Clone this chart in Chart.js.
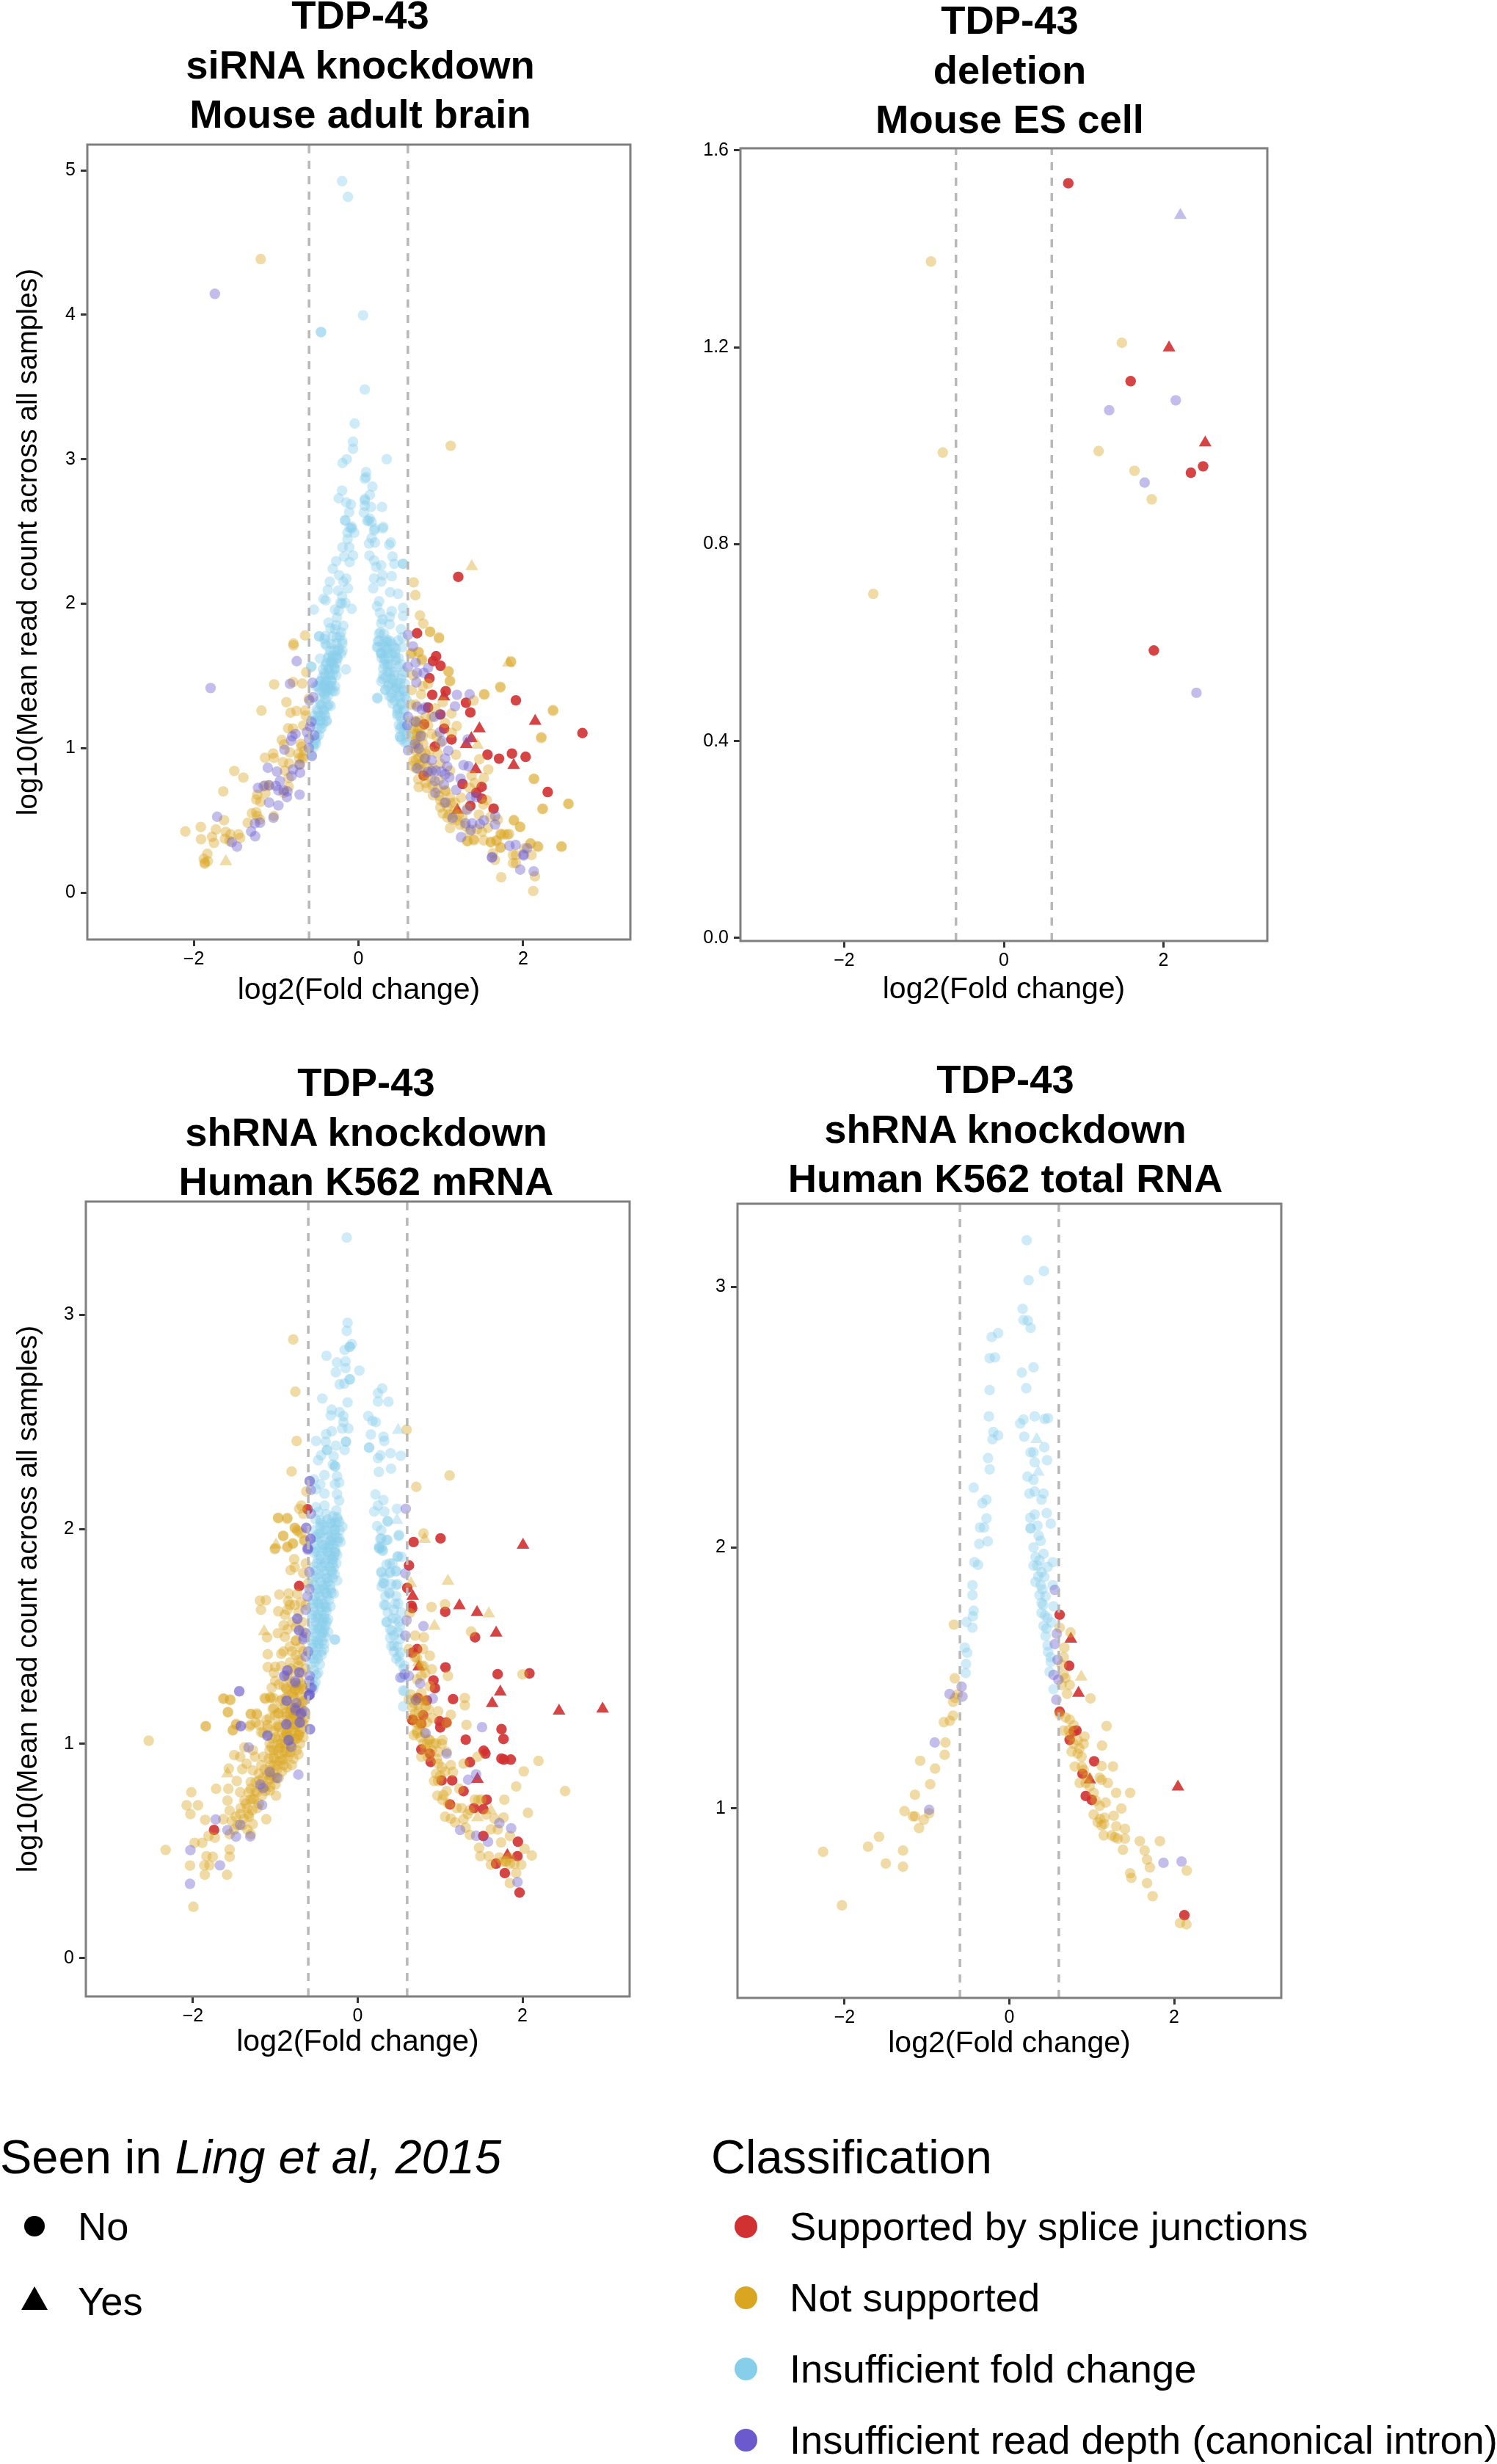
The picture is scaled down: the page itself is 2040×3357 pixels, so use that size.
<!DOCTYPE html>
<html>
<head>
<meta charset="utf-8">
<title>TDP-43 volcano plots</title>
<script src="https://cdn.jsdelivr.net/npm/chart.js@4/dist/chart.umd.min.js"></script>
<style>
  html, body { margin: 0; padding: 0; background: #fff; }
  body { position: relative; width: 2040px; height: 3357px; overflow: hidden; font-family: "Liberation Sans", Arial, sans-serif; color: #000; }
  canvas { position: absolute; }
  .panel-title { position: absolute; transform: translateX(-50%); text-align: center; white-space: nowrap; font-weight: bold; font-size: 54.4px; line-height: 67.5px; }
  .legend-title { position: absolute; font-size: 65px; line-height: 66px; white-space: nowrap; }
  .legend-label { position: absolute; font-size: 54.3px; line-height: 54px; white-space: nowrap; }
  .dot { position: absolute; border-radius: 50%; }
  .tri { position: absolute; width: 0; height: 0; border-left: 18px solid transparent; border-right: 18px solid transparent; border-bottom: 32px solid #000; }
</style>
</head>
<body>
<script>
// values, [log2 fold change, log10 mean count]
const xTicks = [-2, 0, 2];
const foldCut = 0.6;

const classLabels = ["Supported by splice junctions", "Not supported", "Insufficient fold change", "Insufficient read depth (canonical intron)"];
const classColors = ["#D13131", "#DAA520", "#87CEEB", "#6A5ACD"];
const seenLabels = ["No", "Yes"];

// --- siRNA knockdown, mouse adult brain
const brainTicks = [0, 1, 2, 3, 4, 5];
const brainSupported = [[.711,1.795],[.943,1.636],[.905,1.602],[.997,1.57],[.863,1.484],[1.059,1.394],[.896,1.369],[1.306,1.314],[1.912,1.331],[1.359,1.247],[.845,1.281],[.994,1.233],[.798,1.165],[1.041,1.135],[1.13,1.06],[.928,1.01],[2.72,1.104],[1.567,.955],[1.707,.927],[1.864,.962],[2.03,.94],[2.298,.696],[1.264,.752],[1.496,.732],[1.43,.691],[1.499,.65],[1.359,.6],[1.641,.581],[.792,.81],[1.212,2.186]];
const brainSupportedYes = [[1.469,1.135],[1.371,1.067],[1.309,1.026],[2.146,1.187],[1.885,.881],[1.424,.852],[1.038,1.355],[1.2,.57]];
const brainNotSupported = [[.869,1.806],[.979,1.767],[.646,1.657],[.732,1.665],[.774,1.616],[1.092,1.533],[1.113,1.467],[1.852,1.601],[1.722,1.425],[1.526,1.374],[1.398,1.33],[2.363,1.264],[2.221,1.076],[1.13,1.24],[1.193,1.153],[1.133,1.106],[1.184,.955],[1.469,.923],[1.576,.852],[2.129,.788],[1.523,.793],[2.548,.615],[2.239,.581],[1.888,.503],[1.962,.456],[2.467,.32],[2.176,.32],[2.087,.339],[1.724,.408],[1.772,.403],[1.829,.406],[1.728,.313],[1.671,.361],[1.609,.347],[1.522,.361],[1.401,.369],[1.32,.356],[1.113,.447],[1.463,.539],[1.573,.449],[1.603,.522],[1.692,.505],[1.558,.64],[1.517,.61],[1.41,.759],[1.35,.725],[1.374,.81],
[.762,1.372],[.646,1.402],[.78,1.428],[.845,1.445],[.667,1.504],[.697,1.301],[.637,1.301],[.934,1.275],[1.024,1.318],[.89,1.216],[1.053,1.174],[.815,1.216],[.741,1.191],[.845,1.157],[.667,1.131],[.711,1.098],[.89,1.098],[.949,1.081],[.786,1.03],[.682,1.047],[.86,.979],[.964,.962],[.994,1.038],[.815,.962],[.667,.911],[.741,.886],[.83,.877],[.652,.877],[.994,.894],[1.113,.844],[.726,.784],[.815,.759],[.732,.73],[.83,.725],[.905,.674],[.994,.64],[1.113,.657],[.994,.59],[1.024,.547],[1.083,.59],[1.172,.623],[1.246,.657],[1.217,.539],[1.32,.581],[1.142,.505],[1.232,.47],[1.35,.42],[1.053,.708],[.68,1.19],[.66,1.1],[.7,1.06],[.72,1.14],[.76,1.1],[.7,.98],[.73,.93],[.78,.9],[.7,.86],[.88,.79],[.96,.72],[1.04,.62],[1.1,.54],[1.2,.5],
[.7,1.18],[.74,1.13],[.78,1.08],[.72,1.02],[.66,1],[.76,.97],[.7,.92],[.8,.93],[.75,.85],[.82,.82],[.9,.86],[.98,.78],[.9,.74],[.98,.67],[1.06,.7],[1.12,.62],[1.08,.52],[1.16,.56],[1.26,.52],[1.3,.46],[1.44,.44],[1.5,.42],
[1.887,.498],[1.964,.453],[1.734,.401],[1.811,.401],[1.606,.351],[1.683,.358],[1.402,.362],[1.325,.356],[1.632,.272],[1.724,.31],[1.657,.226],[1.877,.26],[1.913,.26],[1.877,.204],[1.913,.204],[2.015,.306],[2.092,.34],[2.184,.317],[2.102,.26],[2.465,.317],[1.734,.106],[2.143,.113],[2.123,.011],[2.235,.578],[2.552,.614],[2.133,.786],[2.22,1.069],[2.363,1.257],[1.724,1.42],[1.852,1.595],
[.67,2.147],[.691,2.059],[.747,1.918],[.788,1.862],[.87,1.805],[.977,1.76],[.634,1.653],[.726,1.665],[.767,1.608],[1.095,1.529],[1.11,1.461],[1.529,1.37],[1.12,3.093],[-1.187,4.385],
[-.649,1.78],[-.789,1.724],[-.789,1.711],[-.634,1.526],[-.795,1.457],[-.682,1.447],[-1.024,1.441],[-1.178,1.26],[-.875,1.318],[-.825,1.245],[-.753,1.257],[-.646,1.26],[-.64,1.225],[-.602,1.343],[-.67,1.157],[-.854,1.137],[-.795,1.135],[-.932,1.057],[-.905,1.026],[-1.036,.962],[-1.134,.933],[-1.027,.932],[-1.508,.842],[-1.398,.796],[-1.642,.701],[-.917,.903],[-.834,.97],[-.842,.894],[-.73,.962],[-.67,.928],[-.7,1.03],[-.715,.886],[-.893,.844],[-.848,.793],[-1.131,.742],[-1.086,.742],[-1.229,.677],[-1.131,.688],[-1.241,.644],[-1.19,.628],[-.848,.733],[-.908,.691],[-1.294,.549],[-1.241,.556],[-1.229,.53],[-1.196,.505],[-1.345,.483],[-1.027,.53],[-1.633,.501],[-1.731,.437],[-1.915,.454],[-2.102,.423],[-1.912,.369],[-1.778,.386],[-1.755,.344],[-1.612,.42],[-1.555,.403],[-1.457,.403],[-1.621,.373],[-1.437,.378],[-1.567,.358],[-1.835,.268],[-1.879,.234],[-1.829,.217],[-1.867,.208],[-1.867,.2],[-.68,.94],[-.66,.98],[-.72,.93],[-.69,1.01]];
const brainNotSupportedYes = [[1.82,1.589],[1.445,1.021],[1.376,2.258],[-1.611,.215]];
const brainLowFold = [[-.199,4.925],[-.128,4.816],[.056,3.996],[-.455,3.88],[-.455,3.88],[.077,3.483],[-.046,3.247],[-.066,3.121],[-.066,3.072],[-.143,3],[-.194,2.974],[.343,3],[.092,2.911],[.092,2.876],[.077,2.865],[.169,2.811],[-.199,2.783],[.138,2.753],[-.24,2.729],[.077,2.725],[.077,2.715],[-.148,2.701],[-.092,2.687],[.077,2.678],[.153,2.669],[.286,2.669],[-.113,2.634],[.066,2.631],[-.164,2.578],[.138,2.589],[.107,2.573],[.159,2.566],[-.107,2.526],[-.082,2.533],[.199,2.519],[.302,2.531],
[-.159,2.575],[.123,2.575],[-.082,2.521],[-.133,2.491],[-.051,2.491],[.189,2.507],[.292,2.521],[-.133,2.446],[.159,2.453],[.128,2.416],[.2,2.423],[-.194,2.39],[-.113,2.39],[.394,2.423],[.373,2.408],[-.066,2.333],[.133,2.333],[-.174,2.326],[.414,2.326],[-.271,2.294],[-.107,2.288],[.189,2.299],[.435,2.276],[.542,2.276],[.542,2.276],[-.312,2.242],[.215,2.254],[.276,2.265],[-.235,2.197],[-.148,2.174],[-.184,2.152],[.292,2.197],[.189,2.174],[.404,2.19],[.276,2.152],[-.348,2.152],[-.373,2.095],[-.128,2.106],[-.246,2.09],[.179,2.106],[.384,2.079],[.481,2.068],[-.425,2.034],[-.399,2.023],[-.199,2.05],[-.159,2.005],[-.22,2.005],[.251,2.016],[.225,1.982],[.542,1.971],[-.082,1.964],[-.286,1.959],[-.542,1.959],[.261,1.937],[.404,1.948],[.542,1.914],[-.261,1.903],[.292,1.891],[.379,1.909],[-.363,1.869],[-.184,1.846],[.276,1.864],[-.286,1.823],[.517,1.823],[.379,1.857],[-.21,1.801],[-.476,1.773],[-.414,1.755],[-.261,1.767],[.266,1.801],[.532,1.767],[-.389,1.71],[-.199,1.744],[.251,1.744],[.353,1.733],[.481,1.744],[.225,1.699],[-.235,1.687],[.455,1.687],[.353,1.687],[-.21,1.653],[-.312,1.642],[.276,1.653],[.404,1.653],[-.465,1.619],[-.338,1.597],[-.261,1.619],[.327,1.608],[.455,1.608],[.353,1.563],[.481,1.563],[-.573,1.563],[-.573,1.563],[-.363,1.552],[-.286,1.552],[-.153,1.545],[-.414,1.518],[-.312,1.506],[.302,1.506],[.43,1.506],[.532,1.506],[-.465,1.461],[-.389,1.461],[.276,1.461],[.404,1.45],[.506,1.45],[-.517,1.427],[-.414,1.416],[-.338,1.404],[.327,1.404],[.455,1.416],[.558,1.393],[-.414,1.37],[-.286,1.393],[.23,1.343],[.404,1.348],[.506,1.348],[.583,1.336],[-.465,1.302],[-.338,1.291],[.481,1.28],[.558,1.257],[-.491,1.257],[-.414,1.234],[.506,1.223],[-.465,1.189],[-.389,1.185],[-.542,1.189],[.558,1.166],[-.465,1.133],[.506,1.133],[.583,1.099],[-.506,1.076],[.506,1.076],[-.517,1.031],[.583,1.042],[-.542,1.008],[-.568,.951],
[-.477,1.775],[-.403,1.775],[-.314,1.775],[-.225,1.775],[-.403,1.724],[-.269,1.724],[-.195,1.724],[-.343,1.674],[-.254,1.674],[-.195,1.674],[-.373,1.623],[-.314,1.623],[-.254,1.623],[-.388,1.589],[-.314,1.589],[-.269,1.589],[-.432,1.546],[-.358,1.546],[-.284,1.546],[-.403,1.504],[-.343,1.504],[-.269,1.504],[-.462,1.462],[-.403,1.462],[-.328,1.462],[-.492,1.428],[-.418,1.428],[-.358,1.428],[-.284,1.428],[-.447,1.394],[-.388,1.394],[-.314,1.394],[-.373,1.36],[-.447,1.301],[-.358,1.301],[-.507,1.267],[-.432,1.267],[-.536,1.225],[-.462,1.225],[-.403,1.225],[-.522,1.191],[-.462,1.191],[-.388,1.191],[-.447,1.14],[-.522,1.047],[-.551,1.021],
[-.33,1.72],[-.29,1.68],[-.36,1.64],[-.27,1.64],[-.33,1.6],[-.4,1.57],[-.3,1.57],[-.36,1.52],[-.44,1.49],[-.33,1.47],[-.42,1.44],[-.37,1.41],[-.47,1.4],[-.42,1.38],[-.33,1.43],[-.4,1.34],[-.47,1.33],[-.38,1.29],[-.42,1.26],[-.49,1.22],[-.43,1.17],[-.5,1.14],[-.48,1.09],[-.53,1.06],[-.34,1.83],[-.27,1.85],[-.24,1.95],[-.2,2],
[.251,1.792],[.31,1.792],[.236,1.741],[.325,1.741],[.385,1.741],[.236,1.699],[.325,1.699],[.429,1.699],[.533,1.699],[.281,1.657],[.355,1.657],[.444,1.657],[.281,1.623],[.37,1.623],[.489,1.623],[.31,1.58],[.4,1.58],[.518,1.58],[.355,1.529],[.429,1.529],[.548,1.529],[.296,1.479],[.4,1.479],[.518,1.479],[.37,1.445],[.474,1.445],[.563,1.445],[.325,1.402],[.444,1.402],[.548,1.402],[.376,1.36],[.489,1.36],[.563,1.36],[.23,1.35],[.414,1.309],[.518,1.309],[.474,1.267],[.548,1.267],[.474,1.225],[.518,1.148],[.563,1.148],[.504,1.081],[.578,1.081],[.563,1.038],
[.29,1.72],[.33,1.68],[.27,1.66],[.31,1.62],[.36,1.58],[.3,1.55],[.38,1.52],[.33,1.49],[.42,1.47],[.36,1.43],[.46,1.42],[.4,1.38],[.5,1.39],[.44,1.33],[.52,1.3],[.47,1.24],[.53,1.19],[.49,1.16],[.55,1.12],[.52,1.06],[.35,1.75],[.41,1.72],[.45,1.63]];
const brainLowDepth = [[.602,1.784],[.661,1.704],[.694,1.592],[.599,1.562],[.845,1.555],[.711,1.521],[.792,1.521],[.703,1.455],[1.196,1.369],[1.35,1.372],[1.172,1.289],[.815,1.284],[.711,1.287],[.771,1.267],[.92,1.216],[.994,1.233],[.602,1.216],[.697,1.182],[.593,1.157],[.988,1.109],[.756,1.084],[1.017,1.047],[1.327,1.06],[.688,1.03],[.732,.996],[.602,.984],[1.092,.982],[.81,.928],[.89,.915],[1.053,.928],[.715,.86],[1.077,.872],[1.276,.882],[1.338,.874],[.84,.835],[.89,.84],[.94,.844],[1.009,.838],[1.053,.818],[1.104,.798],[.928,.772],[1.038,.747],[1.24,.788],[.934,.691],[1.187,.711],[1.365,.662],[1.43,.66],[1.056,.623],[1.142,.518],[1.32,.573],[1.3,.479],[1.38,.479],[1.365,.433],[1.475,.474],[1.523,.5],[1.659,.471],[1.662,.53],[1.246,.383],[1.834,.324],[1.909,.33],[2.048,.307],[2.004,.264],[1.624,.246],[1.964,.159],[2.128,.147],[1.621,.242],[2.005,.256],
[-1.796,1.416],[-.75,1.602],[-.557,1.453],[-.831,1.445],[-.551,1.352],[-.596,1.33],[-.572,1.182],[-.587,1.148],[-.626,1.111],[-.765,1.098],[-.804,1.081],[-.819,1.052],[-.536,1.089],[-.602,1.064],[-.602,1],[-.899,.989],[-.566,.945],[-1.101,.864],[-.99,.838],[-.715,.886],[-.795,.852],[-.709,.83],[-.813,.806],[-.955,.772],[-1.22,.725],[-1.151,.737],[-1.086,.742],[-1.003,.739],[-.973,.708],[-.908,.708],[-.863,.7],[-.869,.661],[-.715,.678],[-1.086,.623],[-.973,.603],[-1.716,.525],[-1.033,.518],[-1.196,.484],[-1.258,.479],[-1.303,.423],[-1.255,.39],[-1.538,.349],[-1.475,.318],[-1.744,4.145]];

// --- deletion, mouse ES cell
const esTicks = [0, 0.4, 0.8, 1.2, 1.6];
const esSupported = [[.807,1.533],[1.588,1.131],[2.343,.945],[2.496,.958],[1.879,.584]];
const esSupportedYes = [[2.069,1.199],[2.522,1.006]];
const esNotSupported = [[-.913,1.374],[-.765,.986],[-1.636,.699],[1.478,1.209],[1.187,.989],[1.636,.949],[1.852,.891]];
const esLowDepth = [[1.319,1.072],[2.153,1.092],[1.763,.925],[2.412,.498]];
const esLowDepthYes = [[2.211,1.468]];

// --- shRNA knockdown, human K562 mRNA
const mrnaTicks = [0, 1, 2, 3];
const mrnaSupported = [[.678,1.94],[1.005,1.957],[.622,1.831],[.601,1.726],[.652,1.643],[.661,1.632],[1.062,1.615],[1.424,1.496],[.72,1.441],[.661,1.424],[1.065,1.356],[.919,1.295],[.937,1.259],[1.698,1.324],[2.084,1.328],[1.157,1.208],[.729,1.213],[.839,1.202],[.661,1.111],[.993,1.105],[1.002,1.076],[1.077,1.099],[.794,1.133],[.771,1.094],[1.745,1.068],[1.769,1.022],[1.311,1.019],[1.529,.967],[1.55,.954],[1.744,.931],[1.775,.926],[1.857,.926],[1.361,.914],[.885,.915],[.875,.954],[.772,.973],[1.018,.829],[1.146,.829],[1.284,.779],[1.565,.739],[1.12,.717],[1.412,.7],[1.524,.695],[1.524,.57],[1.944,.543],[1.939,.476],[1.678,.441],[1.785,.397],[1.964,.306],[-1.744,.598],[.67,1.111],[-.711,1.735],[-.609,2.093]];
const mrnaSupportedYes = [[2.006,1.926],[.667,1.687],[1.234,1.644],[1.448,1.612],[1.68,1.516],[.741,1.359],[1.73,1.242],[1.632,1.188],[2.443,1.153],[2.972,1.162],[1.453,.835],[1.816,.48]];
const mrnaNotSupported = [[.895,1.637],[1.059,1.65],[1.376,1.523],[.696,1.504],[.803,1.496],[.629,1.609],[.793,1.441],[.619,1.441],[.875,1.41],[.696,1.404],[.9,1.347],[.798,1.363],[2,1.323],[1.095,1.316],[.772,1.316],[.875,1.268],[.619,1.206],[.772,1.237],[1.3,1.213],[1.3,1.179],[.977,1.151],[1.13,1.135],[.824,1.174],[.696,1.143],[.772,1.088],[1.079,1.096],[1.32,1.088],[.721,1.049],[.875,1.017],[.951,1.002],[1.028,1.017],[.798,1.002],[.824,.978],[.977,.962],[1.079,.962],[.772,.939],[.977,.907],[1.13,.9],[1.284,.907],[1.453,.939],[2.194,.92],[2.015,.871],[1.156,.868],[.951,.86],[.977,.826],[.926,.826],[1.923,.801],[2.517,.779],[1.079,.779],[.967,.758],[1.028,.738],[1.233,.79],[1.463,.738],[1.78,.739],[2.066,.678],[1.335,.672],[1.284,.648],[1.13,.651],[1.182,.633],[1.77,.656],[1.616,.601],[1.31,.609],[1.361,.575],[1.847,.57],[1.473,.515],[2.026,.51],[2.113,.479],[1.488,.476],[1.591,.476],[1.616,.436],[1.795,.452],[1.847,.44],[1.985,.436],[1.923,.397],[1.847,.35],[.593,2.464],[1.115,2.25],[.711,2.197],[.798,1.98],[.68,1.19],[.74,1.15],[.82,1.2],[.86,1.16],[.9,1.12],[.78,1.13],[.84,1.1],[.72,1.06],[.81,1.05],[.86,1.02],[.92,1],
[.64,1.23],[.66,1.17],[.7,1.21],[.74,1.18],[.78,1.2],[.65,1.12],[.7,1.1],[.74,1.09],[.68,1.04],[.76,1.03],[.84,1],[.9,.97],[.85,.94],[.96,.93],[1.02,.89],[1,.85],[1.06,.87],[1.04,.76],[1.1,.72],[1.2,.7],[1.26,.7],[1.36,.69],[1.42,.74],[1.5,.74],[1.56,.67],[1.66,.65],[1.7,.6],[1.74,.54],[1.72,.47],[1.76,.45],[1.8,.45],[1.84,.47],[1.9,.44],[1.06,.66],[1.02,1],[.72,1.3],[.78,1.36],[.72,1.4],[.82,1.33],
[-.783,2.884],[-.757,2.641],[-.742,2.411],[-.803,2.269],[-.624,2.176],[-.685,2.11],[-.711,2.095],[-.66,2.072],[-.967,2.053],[-.854,2.053],[-.762,2.006],[-.737,1.995],[-.685,1.98],[-.905,1.969],[-.788,1.934],[-.65,1.95],[-.854,1.919],[-1,1.911],
[-1.632,1.21],[-1.55,1.206],[-1.13,1.213],[-1.059,1.213],[-.864,1.253],[-.762,1.253],[-.66,1.253],[-.916,1.206],[-.762,1.206],[-.634,1.206],[-1.575,1.148],[-1.018,1.166],[-.967,1.143],[-.813,1.159],[-.711,1.174],[-1.299,1.138],[-1.222,1.135],[-1.069,1.119],[-.864,1.127],[-.737,1.135],[-.634,1.143],[-1.847,1.082],[-2.537,1.014],[-1.514,1.064],[-1.478,1.088],[-1.299,1.088],[-1.197,1.088],[-1.095,1.088],[-.967,1.088],[-.762,1.088],[-.66,1.096],[-1.146,1.049],[-1.018,1.057],[-.864,1.049],[-.711,1.041],[-.967,1.017],[-1.069,1.002],[-.813,1.002],[-1.376,.983],[-1.274,.97],[-1.069,.97],[-.967,.97],[-.89,.962],[-1.499,.947],[-1.427,.939],[-1.248,.939],[-1.146,.939],[-1.018,.931],[-.916,.923],[-1.565,.884],[-1.402,.881],[-1.274,.876],[-1.171,.9],[-1.018,.9],[-1.35,.907],[-1.069,.876],[-1.299,.821],[-1.197,.829],[-1.069,.837],[-1.468,.826],[-1.719,.79],[-1.57,.79],[-1.427,.774],[-1.325,.774],[-1.222,.774],[-1.069,.782],[-.992,.758],[-2.02,.774],[-1.581,.735],[-1.376,.735],[-1.274,.743],[-2.077,.713],[-1.939,.713],[-2.031,.672],[-1.555,.688],[-1.427,.672],[-1.325,.672],[-1.11,.648],[-1.852,.645],[-1.632,.648],[-1.529,.64],[-1.274,.625],[-1.811,.57],[-1.734,.562],[-1.887,.538],[-1.98,.538],[-1.555,.578],[-1.299,.578],[-2.332,.505],[-1.555,.507],[-1.836,.476],[-1.555,.473],[-1.76,.473],[-2.036,.432],[-1.862,.433],[-1.8,.433],[-1.857,.389],[-1.586,.389],[-1.995,.24],
[-.964,2.051],[-.857,2.048],[-.765,2.006],[-.72,1.989],[-.904,1.968],[-.646,1.945],[-.786,1.932],[-.854,1.915],[-1.008,1.907],[-.771,1.86],[-.765,1.823],[-.815,1.809],[-.631,1.84],[-.661,1.795],[-.601,1.749],[-.952,1.695],[-.839,1.7],[-.735,1.698],[-1.187,1.667],[-1.115,1.669],[-1.175,1.624],[-.964,1.617],[-.845,1.664],[-.824,1.647],[-.854,1.624],[-.765,1.647],[-.691,1.658],[-.72,1.612],[-.631,1.647],[-.884,1.601],[-.795,1.567],[-.899,1.552],[-.854,1.533],[-.97,1.515],[-1.101,1.496],[-.884,1.498],[-.75,1.544],[-.676,1.567],[-.661,1.521],[-.75,1.481],[-.824,1.453],[-.899,1.43],[-.928,1.419],[-1.092,1.417],[-.75,1.413],[-.661,1.43],[-.691,1.384],[-1.092,1.357],[-1.002,1.359],[-.928,1.362],[-1.017,1.33],[-.809,1.35],[-.72,1.362],[-.631,1.35],[-1.002,1.293],[-.958,1.276],[-1.044,1.261],[-.839,1.305],[-.869,1.259],[-.78,1.27],[-.691,1.282],[-.795,1.236],[-.72,1.248],[-.646,1.259],[-1.626,1.21],[-1.546,1.203],[-1.023,1.213],[-1.121,1.209],[-1.062,1.217],[-.869,1.213],[-1.576,1.146],[-1.297,1.139],[-1.225,1.141],[-1.032,1.162],[-.913,1.162],[-.809,1.179],[-.676,1.19],[-1.24,1.099],[-1.002,1.133],[-.869,1.145],[-.78,1.133],[-1.843,1.081],[-1.517,1.062],[-1.475,1.092],[-1.314,1.08],[-1.107,1.111],[-1.092,1.071],[-.958,1.076],[-.839,1.099],[-.78,1.076],[-.676,1.099],[-1.172,1.054],[-1.038,1.025],[-.869,1.048],[-.78,1.025],[-.705,1.054],[-1.047,.985],[-.928,1.002],[-.735,1.025],[-.82,1.14],[-.74,1.11],[-.85,1.07],[-.76,1.06],[-.82,1.02],[-.9,1.03],[-.95,.98],[-.86,.96],[-1.02,.97],[-1.08,.93],[-.98,.9],[-1.13,.88],[-1.05,.85],[-1.2,.86],[-1.24,.82],[-1.12,.8],[-1.3,.79],
[-.72,1.3],[-.68,1.27],[-.76,1.25],[-.7,1.22],[-.66,1.2],[-.74,1.17],[-.68,1.16],[-.78,1.14],[-.7,1.13],[-.64,1.12],[-.82,1.11],[-.74,1.09],[-.68,1.07],[-.8,1.06],[-.72,1.04],[-.66,1.03],[-.76,1.02],[-.84,1.03],[-.7,1],[-.8,.98],[-.74,.97],[-.88,.98],[-.84,.94],[-.78,.93],[-.72,.95],[-.9,.93],[-.95,.92],[-.86,.89],[-.8,.9],[-.98,.88],[-.92,.87],[-1.02,.86],[-.96,.84],[-1.08,.83],[-1,.81],[-1.12,.78],[-1.18,.8],[-1.26,.74],[-1.2,.72],[-1.34,.7],[-1.28,.69],[-1.38,.65],[-1.46,.62],
[-.75,1.48],[-.7,1.45],[-.8,1.43],[-.72,1.39],[-.82,1.38],[-.76,1.34],[-.68,1.33],[-.86,1.32],[-.8,1.28],[-.74,1.27],[-.9,1.27],[-.84,1.23],[-.78,1.22],[-.94,1.2],[-.88,1.18],[-.8,1.17],[-.72,1.16],[-.96,1.14],[-.9,1.11],[-.84,1.09],[-.76,1.13],[-.98,1.08],[-.92,1.05],[-.86,1.04],[-1,1.03],[-.94,1],[-.88,1],[-.82,.96],[-1.02,.94],[-.96,.95],[-.9,.9],[-1.06,.9],[-1.1,.86],[-1,.84],[-1.15,.84],[-1.06,.8],[-1.16,.76],[-1.24,.78],[-1.3,.74],[-1.22,.7],[-1.36,.72],[-1.32,.66],[-1.42,.7],[-1.48,.66],[-1.4,.62],[-1.5,.6],[-1.34,.6]];
const mrnaNotSupportedYes = [[1.095,1.758],[1.591,1.606],[.931,1.548],[.645,1.747],[.737,1.378],[1.616,.688],[1.453,.656],[.813,1.953],[-.992,1.927],[-1.136,1.523],[-1.581,.86]];
const mrnaLowFold = [[-.133,3.359],[-.123,2.962],[-.133,2.924],[-.072,2.863],[-.097,2.85],[-.097,2.85],[-.159,2.835],[-.379,2.808],[-.251,2.777],[-.148,2.782],[-.148,2.751],[-.266,2.731],[.02,2.739],[-.097,2.698],[-.097,2.698],[-.22,2.675],[-.164,2.678],[.297,2.656],[.246,2.634],[-.43,2.609],[.246,2.595],[.373,2.594],[-.123,2.591],[-.317,2.557],[-.22,2.545],[-.327,2.53],[-.174,2.527],[.128,2.527],[.179,2.504],[.22,2.499],[-.174,2.499],[-.189,2.469],[-.113,2.469],[-.317,2.456],[-.384,2.443],[.159,2.441],[.312,2.431],[.322,2.411],[-.506,2.411],[-.389,2.408],[-.143,2.408],[-.143,2.408],[-.266,2.389],[-.373,2.369],[-.373,2.369],[-.159,2.369],[.138,2.38],[.138,2.38],[-.445,2.344],[-.292,2.339],[.399,2.354],[.276,2.344],[.246,2.331],[.522,2.342],[-.481,2.321],[-.302,2.301],[-.276,2.293],[-.276,2.293],[.256,2.267],[.404,2.282],[-.532,2.232],[-.404,2.252],[-.251,2.247],[-.276,2.209],[-.225,2.217],[-.506,2.186],[-.404,2.166],[-.251,2.163],[-.455,2.209],[.215,2.162],[.312,2.136],[-.225,2.133],[-.404,2.11],[-.506,2.102],[-.261,2.087],[.246,2.11],[.476,2.095],[.2,2.082],[.322,2.082],[-.251,2.056],[-.455,2.041],[-.327,2.026],[-.225,2.034],[.363,2.037],[.363,2.037],[.235,2.015],[.286,1.995],[.501,1.973],[-.404,1.995],[-.276,1.995],[-.506,1.965],[-.353,1.965],[-.225,1.957],[.286,1.957],[.363,1.95],[.261,1.911],[.261,1.911],[.302,1.904],
[-.532,1.928],[-.43,1.928],[-.327,1.928],[-.506,1.896],[-.379,1.896],[-.276,1.896],[.286,1.915],[.491,1.873],[.389,1.841],[.286,1.802],[.465,1.802],[.389,1.795],[.322,1.747],[.465,1.739],[.389,1.7],[.338,1.645],[.491,1.653],[.353,1.567],[.465,1.582],[.414,1.527],[.491,1.52],[.44,1.457],[.517,1.425],[.568,1.363],[.542,1.308],[.568,1.245],[.552,1.174],[-.276,1.485],
[.497,1.968],[.349,1.949],[.274,1.955],[.26,1.92],[.304,1.898],[.482,1.872],[.533,1.871],[.349,1.835],[.423,1.84],[.289,1.797],[.393,1.801],[.468,1.806],[.319,1.772],[.289,1.732],[.304,1.749],[.408,1.744],[.482,1.744],[.378,1.704],[.468,1.687],[.334,1.687],[.319,1.647],[.453,1.652],[.364,1.612],[.438,1.624],[.527,1.612],[.349,1.567],[.423,1.584],[.497,1.567],[.393,1.533],[.512,1.544],[.393,1.493],[.512,1.487],[.438,1.504],[.408,1.455],[.482,1.453],[.438,1.43],[.497,1.407],[.467,1.396],[.512,1.379],[.557,1.35],[.551,1.248],
[-.512,2.046],[-.364,2.046],[-.245,2.046],[-.453,2.012],[-.304,2.012],[-.186,2.012],[-.483,1.977],[-.364,1.977],[-.275,1.977],[-.453,1.943],[-.334,1.943],[-.245,1.943],[-.512,1.909],[-.393,1.909],[-.275,1.909],[-.453,1.875],[-.334,1.875],[-.29,1.875],[-.498,1.841],[-.393,1.841],[-.304,1.841],[-.26,1.841],[-.512,1.806],[-.408,1.806],[-.319,1.806],[-.483,1.772],[-.379,1.772],[-.304,1.772],[-.527,1.738],[-.423,1.738],[-.334,1.738],[-.483,1.704],[-.393,1.704],[-.319,1.704],[-.542,1.669],[-.438,1.669],[-.349,1.669],[-.527,1.635],[-.453,1.635],[-.379,1.635],[-.557,1.601],[-.483,1.601],[-.408,1.601],[-.512,1.567],[-.423,1.567],[-.379,1.567],[-.542,1.533],[-.468,1.533],[-.408,1.533],[-.527,1.498],[-.453,1.498],[-.393,1.498],[-.542,1.464],[-.468,1.464],[-.408,1.464],[-.527,1.43],[-.438,1.43],[-.542,1.396],[-.483,1.396],[-.572,1.367],[-.278,1.486],[-.503,1.322],[-.512,1.287],[-.542,1.253],
[-.45,2.03],[-.33,2.03],[-.27,2.03],[-.52,1.995],[-.39,1.995],[-.22,1.995],[-.47,1.96],[-.31,1.96],[-.25,1.96],[-.41,1.925],[-.3,1.925],[-.53,1.89],[-.36,1.89],[-.27,1.89],[-.45,1.858],[-.37,1.858],[-.3,1.858],[-.53,1.824],[-.44,1.824],[-.34,1.824],[-.47,1.79],[-.39,1.79],[-.28,1.79],[-.55,1.755],[-.45,1.755],[-.36,1.755],[-.5,1.72],[-.41,1.72],[-.33,1.72],[-.52,1.686],[-.46,1.686],[-.37,1.686],[-.54,1.652],[-.47,1.652],[-.41,1.652],[-.52,1.618],[-.44,1.618],[-.38,1.618],[-.55,1.584],[-.47,1.584],[-.4,1.584],[-.53,1.55],[-.44,1.55],[-.39,1.55],[-.51,1.515],[-.43,1.515],[-.56,1.48],[-.49,1.48],[-.43,1.48],[-.55,1.447],[-.48,1.447],[-.56,1.413],[-.5,1.413],[-.44,1.413],
[-.48,2.08],[-.38,2.07],[-.3,2.06],[-.42,2.02],[-.28,2],[-.46,1.98],[-.33,1.95],[-.21,1.94],[-.43,1.9],[-.25,1.88],[-.48,1.86],[-.41,1.83],[-.29,1.82],[-.51,1.78],[-.36,1.77],[-.25,1.76],[-.46,1.72],[-.37,1.7],[-.29,1.7],[-.49,1.66],[-.4,1.64],[-.33,1.64],[-.5,1.59],[-.43,1.58],[-.36,1.58],[-.48,1.54],[-.42,1.52],[-.36,1.52],[-.49,1.47],[-.41,1.44],[-.52,1.38],[-.46,1.37],[-.53,1.34],[-.48,1.33],[-.55,1.3],[-.53,1.27],[-.35,1.92],[-.32,1.86],[-.31,1.8],[-.39,1.74]];
const mrnaLowFoldYes = [[.491,2.461],[.476,2.041]];
const mrnaLowDepth = [[-1.437,1.245],[-.721,.856],[-.578,1.068],[-1.069,.868],[-.977,.84],[-1.146,.793],[-1.182,.81],[-1.161,.714],[-1.417,1.083],[-1.095,1.039],[-1.325,.983],[-.808,.986],[-.839,1.017],[-.864,1.091],[-.701,1.099],[-.762,1.166],[-.685,1.143],[-.864,1.201],[-.583,1.229],[-.583,1.229],[-.558,1.261],[-.583,1.316],[-.89,1.316],[-.854,1.342],[-.706,1.331],[-.762,1.292],[-.731,1.582],[-.711,1.527],[-.65,1.496],[-.609,1.912],[-1.724,.647],[-1.427,.622],[-1.581,.597],[-1.478,.567],[-1.304,.568],[-2.031,.504],[-1.673,.433],[-2.036,.347],
[.798,1.548],[.578,1.794],[.593,1.575],[.578,1.504],[.517,1.308],[.568,1.323],[.619,1.316],[.757,1.281],[.91,1.21],[.706,1.203],[.824,1.049],[1.079,.954],[1.509,1.077],[1.437,.857],[1.34,.832],[1.243,.598],[1.437,.571],[1.581,.543],[1.719,.63],[1.862,.606],[1.939,.355],[-.583,2.224],[-.583,2.224],[-.568,2.183],[-.568,2.072],[-.624,2.006],[-.573,1.954],[-.609,1.904],[.583,2.095],
[-.601,1.909],[-.572,1.955],[-.625,2.006],[-.587,1.8],[-.587,1.721],[-.61,1.687],[-.631,1.624],[-.735,1.583],[-.714,1.529],[-.631,1.515],[-.661,1.487],[-.601,1.43],[-.631,1.407],[-.854,1.341],[-.893,1.316],[-.711,1.333],[-.756,1.284],[-.587,1.293],[-.593,1.225],[-.593,1.225],[-.572,1.259],[-1.439,1.244],[-.863,1.2],[-.744,1.19],[-.756,1.156],[-.646,1.151],[-.691,1.139],[-.869,1.09],[-.705,1.099],[-.581,1.067],[-1.421,1.081],[-1.098,1.037],[-.839,1.016]];

// --- shRNA knockdown, human K562 total RNA
const totalTicks = [1, 2, 3];
const totalSupported = [[.61,1.743],[.726,1.547],[.61,1.371],[.78,1.296],[.814,1.299],[.732,1.263],[1.029,1.181],[.888,1.133],[.927,1.048],[1,1.033],[2.124,.591]];
const totalSupportedYes = [[.746,1.65],[.839,1.442],[2.046,1.083],[.976,1.11]];
const totalNotSupported = [[-.673,1.705],[-.663,1.499],[-.629,1.437],[-.659,1.424],[-.683,1.409],[-.683,1.356],[-.722,1.336],[-.795,1.331],[-.776,1.253],[-.785,1.206],[-1.083,1.183],[-.902,1.153],[-.961,1.093],[-1.146,1.053],[-1.273,.99],[-1.171,.97],[-1.146,.97],[-1.038,.957],[-1.096,.925],[-.974,.982],[-1.583,.892],[-1.715,.854],[-1.291,.839],[-2.261,.834],[-1.5,.789],[-1.291,.777],[-2.032,.629],
[.741,1.675],[.61,1.693],[.668,1.617],[.634,1.55],[.659,1.512],[.634,1.474],[.732,1.474],[.985,1.422],[.61,1.361],[.683,1.349],[.732,1.341],[.659,1.299],[.78,1.319],[1.18,1.316],[.912,1.276],[.902,1.248],[.829,1.261],[.78,1.248],[1.125,1.241],[.756,1.218],[.829,1.211],[.877,1.198],[.795,1.161],[1.257,1.161],[1.12,1.163],[.902,1.148],[1.096,1.118],[1.195,1.098],[1.12,1.11],[.926,1.098],[.853,1.098],[.975,1.085],[1.296,1.06],[1.466,1.06],[1.023,1.06],[1.096,1.01],[1.169,1.023],[1.359,1],[1.023,.977],[1.267,.972],[1.155,.965],[1.072,.947],[1.12,.935],[1.296,.932],[1.403,.922],[1.242,.897],[1.315,.885],[1.145,.897],[1.403,.885],[1.583,.875],[1.827,.875],[1.379,.842],[1.642,.839],[1.671,.804],[1.705,.774],[2.153,.762],[1.466,.752],[1.481,.734],[1.671,.714],[1.739,.664],[2.071,.561],[2.149,.556],[.7,1.44],[.68,1.5],[.66,1.58],[.72,1.3],[.74,1.28],[.85,1.23],[.88,1.16],[.95,1.12],[1.05,1.03],[1.1,.96],[1.15,.94],[1.28,.89]];
const totalNotSupportedYes = [[.873,1.504]];
const totalLowFold = [[.21,3.178],[.234,3.025],[.419,3.06],[.161,2.915],[.171,2.872],[.224,2.87],[.258,2.842],[-.214,2.807],[-.137,2.822],[-.239,2.726],[-.176,2.729],[.151,2.671],[.293,2.691],[-.239,2.604],[.205,2.611],[-.249,2.503],[.307,2.503],[.171,2.491],[.132,2.476],[.429,2.493],[.468,2.496],[-.195,2.443],[-.205,2.415],[-.137,2.43],[.18,2.425],[.424,2.385],[.258,2.365],[.293,2.365],[.307,2.327],[.458,2.335],[-.259,2.343],[-.239,2.3],[.22,2.272],[.293,2.26],[-.434,2.23],[-.278,2.184],[-.327,2.17],[.244,2.207],[.307,2.215],[.415,2.207],[.39,2.184],[-.278,2.112],[-.356,2.077],[-.307,2.077],[.307,2.127],[.254,2.114],[.453,2.132],[.341,2.084],[.258,2.074],[.258,2.074],[.502,2.092],[.356,2.046],[.38,2.026],[-.263,2.024],[-.366,2.014],[.293,2.001],[.415,1.976],[-.424,1.944],[-.38,1.934],[.317,1.964],[.293,1.931],[.366,1.951],[.526,1.944],[.463,1.926],[.39,1.906],[.424,1.888],[.317,1.868],[-.448,1.856],[.38,1.856],[.526,1.856],[-.448,1.818],[.366,1.818],[.439,1.813],[-.434,1.758],[.39,1.788],[.536,1.775],[-.443,1.737],[-.521,1.715],[.39,1.75],[.463,1.73],[-.448,1.693],[.415,1.7],[.512,1.713],[.439,1.662],[-.541,1.617],[-.512,1.597],[.463,1.625],[-.526,1.554],[.502,1.562],[-.531,1.519],[.488,1.524],[.536,1.457],[.34,1.93],[.35,1.89],[.4,1.84],[.41,1.78],[.43,1.74],[.45,1.69],[.47,1.6],[.5,1.58]];
const totalLowFoldYes = [[.332,2.415],[.351,2.29]];
const totalLowDepth = [[.551,1.838],[.575,1.67],[.551,1.63],[.585,1.57],[.536,1.512],[.594,1.494],[.57,1.417],[-.726,1.439],[-.58,1.467],[-.57,1.429],[-.906,1.253],[-.974,.995],[1.871,.792],[2.09,.797]];

// plot boxes measured on the page
const panels = [
  { lines: ["TDP-43", "siRNA knockdown", "Mouse adult brain"], titleX: 491, titleTop: -13, box: [119, 859, 197, 1280], xRange: [-3.293, 3.302], yRange: [-0.325, 5.178], yTicks: brainTicks, yDigits: 0, yTitle: true, xBox: 94,
    sets: [brainSupported, brainSupportedYes, brainNotSupported, brainNotSupportedYes, brainLowFold, [], brainLowDepth, []] },
  { lines: ["TDP-43", "deletion", "Mouse ES cell"], titleX: 1376, titleTop: -6, box: [1009, 1727, 202, 1282], xRange: [-3.3, 3.3], yRange: [-0.006, 1.604], yTicks: esTicks, yDigits: 1, yTitle: false, xBox: 91,
    sets: [esSupported, esSupportedYes, esNotSupported, [], [], [], esLowDepth, esLowDepthYes] },
  { lines: ["TDP-43", "shRNA knockdown", "Human K562 mRNA"], titleX: 499, titleTop: 1441, box: [117, 858, 1637, 2720], xRange: [-3.3, 3.3], yRange: [-0.178, 3.527], yTicks: mrnaTicks, yDigits: 0, yTitle: true, xBox: 87,
    sets: [mrnaSupported, mrnaSupportedYes, mrnaNotSupported, mrnaNotSupportedYes, mrnaLowFold, mrnaLowFoldYes, mrnaLowDepth, []] },
  { lines: ["TDP-43", "shRNA knockdown", "Human K562 total RNA"], titleX: 1370, titleTop: 1437, box: [1005, 1746, 1640, 2722], xRange: [-3.3, 3.3], yRange: [0.274, 3.318], yTicks: totalTicks, yDigits: 0, yTitle: false, xBox: 87,
    sets: [totalSupported, totalSupportedYes, totalNotSupported, totalNotSupportedYes, totalLowFold, totalLowFoldYes, totalLowDepth, []] },
];

const classAlpha = [0.9, 0.4, 0.4, 0.4];
const drawOrder = [3, 2, 1, 0]; // first one ends up on top

function tint(hex, a) {
  const n = parseInt(hex.slice(1), 16);
  return `rgba(${n >> 16}, ${(n >> 8) & 255}, ${n & 255}, ${a})`;
}

function toPoints(list) {
  return list.map((p) => ({ x: p[0], y: p[1] }));
}

const framePlugin = {
  id: "frame",
  afterDatasetsDraw(chart) {
    const { ctx, chartArea: a } = chart;
    ctx.save();
    ctx.strokeStyle = "#7f7f7f";
    ctx.lineWidth = 3;
    ctx.strokeRect(a.left, a.top, a.right - a.left, a.bottom - a.top);
    ctx.restore();
  },
};

// chart.js leaves room for the outer tick labels, the boxes here are fixed
function noScalePadding(s) {
  s.paddingLeft = 0;
  s.paddingRight = 0;
  s.paddingTop = 0;
  s.paddingBottom = 0;
}

Chart.defaults.font.family = '"Liberation Sans", Arial, sans-serif';
Chart.defaults.color = "#000";

panels.forEach((p) => {
  const [left, right, top, bottom] = p.box;
  const canvasLeft = p.yTitle ? 0 : left - 119;
  const canvasTop = top - 20; // room above the frame for a tick label at the very top
  const canvas = document.createElement("canvas");
  canvas.width = right + 4 - canvasLeft;
  canvas.height = bottom + p.xBox - canvasTop;
  canvas.style.left = canvasLeft + "px";
  canvas.style.top = canvasTop + "px";
  document.body.appendChild(canvas);

  const title = document.createElement("div");
  title.className = "panel-title";
  title.style.left = p.titleX + "px";
  title.style.top = p.titleTop + "px";
  title.innerHTML = p.lines.join("<br>");
  document.body.appendChild(title);

  const datasets = [-foldCut, foldCut].map((v) => ({
    data: [{ x: v, y: p.yRange[0] }, { x: v, y: p.yRange[1] }],
    showLine: true,
    borderColor: "#b8b8b8",
    borderWidth: 3.5,
    borderDash: [11, 10],
    pointRadius: 0,
  }));

  drawOrder.forEach((c) => {
    [0, 1].forEach((seen) => {
      const rows = p.sets[c * 2 + seen];
      if (!rows.length) return;
      datasets.push({
        label: classLabels[c] + " / " + seenLabels[seen],
        data: toPoints(rows),
        pointStyle: seen ? "triangle" : "circle",
        pointRadius: seen ? 10 : 7.2,
        pointBorderWidth: 0,
        backgroundColor: tint(classColors[c], classAlpha[c]),
        showLine: false,
      });
    });
  });

  new Chart(canvas, {
    type: "scatter",
    data: { datasets },
    plugins: [framePlugin],
    options: {
      responsive: false,
      animation: false,
      events: [],
      layout: { autoPadding: false, padding: { top: 20, right: 4, left: 0, bottom: 0 } },
      plugins: { legend: { display: false }, tooltip: { enabled: false }, title: { display: false } },
      scales: {
        x: {
          min: p.xRange[0],
          max: p.xRange[1],
          afterBuildTicks: (s) => { s.ticks = xTicks.map((v) => ({ value: v })); },
          afterFit: (s) => { s.height = p.xBox; noScalePadding(s); },
          border: { display: false },
          grid: { drawOnChartArea: false, drawTicks: true, tickLength: 9, tickWidth: 3, tickColor: "#333" },
          ticks: { font: { size: 25 }, padding: 3, maxRotation: 0, autoSkip: false, color: "#000",
            callback: (v) => (v < 0 ? "\u2212" + Math.abs(v) : String(v)) },
          title: { display: true, text: "log2(Fold change)", font: { size: 41 }, color: "#000", padding: { top: 0, bottom: 0 } },
        },
        y: {
          min: p.yRange[0],
          max: p.yRange[1],
          afterBuildTicks: (s) => { s.ticks = p.yTicks.map((v) => ({ value: v })); },
          afterFit: (s) => { s.width = left - canvasLeft; noScalePadding(s); },
          border: { display: false },
          grid: { drawOnChartArea: false, drawTicks: true, tickLength: 9, tickWidth: 3, tickColor: "#333" },
          ticks: { font: { size: 25 }, padding: 7, autoSkip: false, color: "#000",
            callback: (v) => v.toFixed(p.yDigits) },
          title: { display: p.yTitle, text: "log10(Mean read count across all samples)", font: { size: 39 }, color: "#000", padding: { top: 16, bottom: 0 } },
        },
      },
    },
  });
});

// legends are plain text next to css marks
function addText(cls, html, x, y) {
  const el = document.createElement("div");
  el.className = cls;
  el.innerHTML = html;
  el.style.left = x + "px";
  el.style.top = y + "px";
  document.body.appendChild(el);
}

addText("legend-title", "Seen in <i>Ling et al, 2015</i>", 0, 2906);
addText("legend-title", "Classification", 969, 2906);

const seenBaselines = [3053, 3155];
seenLabels.forEach((label, i) => addText("legend-label", label, 106, seenBaselines[i] - 46));
const dot = document.createElement("div");
dot.className = "dot";
dot.style.cssText = "left:33px;top:3019px;width:28px;height:28px;background:#000";
document.body.appendChild(dot);
const tri = document.createElement("div");
tri.className = "tri";
tri.style.cssText = "left:29px;top:3115px";
document.body.appendChild(tri);

const classBaselines = [3053, 3150, 3247, 3344];
classLabels.forEach((label, i) => {
  addText("legend-label", label, 1076, classBaselines[i] - 46);
  const mark = document.createElement("div");
  mark.className = "dot";
  mark.style.cssText = `left:1001px;top:${classBaselines[i] - 35}px;width:31px;height:31px;background:${classColors[i]}`;
  document.body.appendChild(mark);
});
</script>
</body>
</html>
